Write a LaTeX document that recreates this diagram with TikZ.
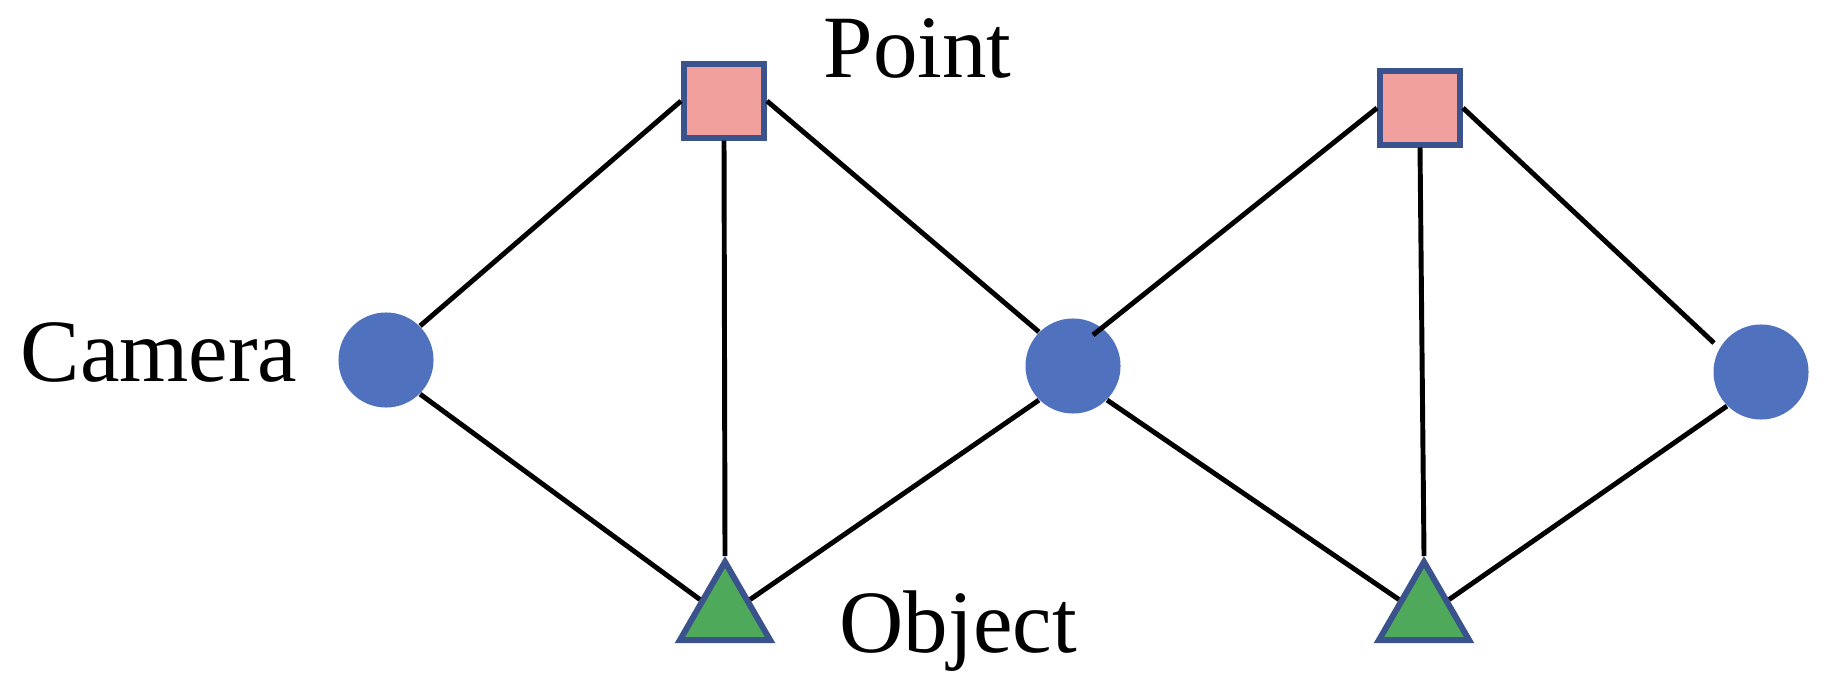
\documentclass[tikz,border=0pt]{standalone}
\usepackage{fontspec}
\setmainfont{Liberation Serif}
\usetikzlibrary{shapes.geometric}

\definecolor{camblue}{RGB}{80,114,190}
\definecolor{ptpink}{RGB}{242,160,158}
\definecolor{objgreen}{RGB}{78,170,90}
\definecolor{rimblue}{RGB}{58,83,140}

\tikzset{
  camera/.style={circle, fill=camblue, minimum size=0.95cm, inner sep=0pt},
  pointbox/.style={rectangle, fill=ptpink, draw=rimblue, line width=1.7pt,
    minimum width=0.80cm, minimum height=0.73cm, inner sep=0pt},
  objtri/.style={regular polygon, regular polygon sides=3, fill=objgreen,
    draw=rimblue, line width=1.7pt, minimum size=1.04cm, inner sep=0pt},
  link/.style={line width=1.4pt, black},
  lbl/.style={anchor=base west, inner sep=0pt, font=\fontsize{25.3}{30}\selectfont}
}

\begin{document}
\begin{tikzpicture}[x=0.01cm, y=-0.01cm]
  \useasboundingbox (0,0) rectangle (1840,688);

  % Cameras
  \node[camera] (cam1) at (386,360) {};
  \node[camera] (cam2) at (1073,366) {};
  \node[camera] (cam3) at (1761,372) {};

  % Points
  \node[pointbox] (pt1) at (724,101) {};
  \node[pointbox] (pt2) at (1420,108) {};

  % Objects
  \node[objtri] (obj1) at (725,614) {};
  \node[objtri] (obj2) at (1424,614) {};

  % Loose line ends
  \coordinate (c2end) at (1093,335);
  \coordinate (c3end) at (1714,343);

  % Links
  \draw[link] (cam1.north east) -- (pt1.west);
  \draw[link] (cam1.south east) -- (obj1.side 1);
  \draw[link] (pt1.south) -- (obj1.corner 1);
  \draw[link] (pt1.east) -- (cam2.north west);
  \draw[link] (cam2.south west) -- (obj1.side 3);
  \draw[link] (c2end) -- (pt2.west);
  \draw[link] (cam2.south east) -- (obj2.side 1);
  \draw[link] (pt2.south) -- (obj2.corner 1);
  \draw[link] (pt2.east) -- (c3end);
  \draw[link] (cam3.south west) -- (obj2.side 3);

  % Labels
  \node[lbl] (lpoint) at (823,78) {Point};
  \node[lbl] (lcam) at (20,381) {Camera};
  \node[lbl] (lobj) at (839,652) {Object};
\end{tikzpicture}
\end{document}
